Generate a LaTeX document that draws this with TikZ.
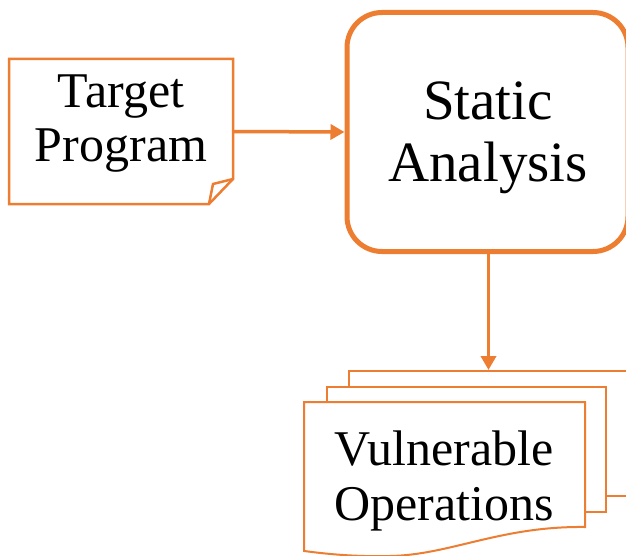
\documentclass[tikz,border=0pt]{standalone}
\usepackage{fontspec}
\setmainfont{Liberation Serif}
\usetikzlibrary{arrows.meta}
\definecolor{orng}{HTML}{ED7D31}
\begin{document}
\begin{tikzpicture}[x=1pt,y=-1pt,
  outline/.style={draw=orng, line width=2.5pt, line join=miter},
  docbox/.style={draw=orng, fill=white, line width=2pt, rectangle, minimum width=279pt, minimum height=125pt, inner sep=0pt},
  sabox/.style={draw=orng, line width=5pt, rectangle, rounded corners=35pt, minimum width=281pt, minimum height=239pt, inner sep=0pt},
  shapebox/.style={rectangle, inner sep=0pt, outer sep=0pt},
  lbl/.style={align=center, inner sep=0pt, text=black},
  flow/.style={draw=orng, line width=3.5pt, -{Triangle[length=14pt, width=15pt]}}
]
\useasboundingbox (0,0) rectangle (626,556);
\clip (0,0) rectangle (626,556);

% Target Program (note with folded corner)
\node[shapebox, minimum width=224pt, minimum height=145pt] (note) at (121,131.5) {};
\draw[outline] (note.north west) -- (note.north east) -- (233,179) -- (209,204) -- (note.south west) -- cycle;
\draw[outline] (233,179) -- (213,184) -- (209,204);
\node[lbl, font=\fontsize{50}{54}\selectfont] (tptext) at (121,124) {Target\\Program};

% Static Analysis
\node[sabox] (sa) at (487.5,132) {};
\node[lbl, font=\fontsize{57}{62}\selectfont] (satext) at (488,138) {Static\\Analysis};

% Vulnerable Operations (stacked documents)
\node[docbox] (back) at (488.5,433.5) {};
\node[docbox] (mid) at (466.5,449.5) {};
\draw[draw=orng, fill=white, line width=2pt] (304,402) coordinate (front) -- (585,402) -- (585,527)
  .. controls (500,526) and (450,555) .. (390,556)
  .. controls (350,557) and (320,553) .. (304,551) -- cycle;
\node[lbl, font=\fontsize{50}{55}\selectfont] (votext) at (444,481) {Vulnerable\\Operations};

% connectors
\draw[flow] (note.east) -- (sa.west);
\draw[flow] (back.north |- sa.south) -- (back.north);
\end{tikzpicture}
\end{document}
